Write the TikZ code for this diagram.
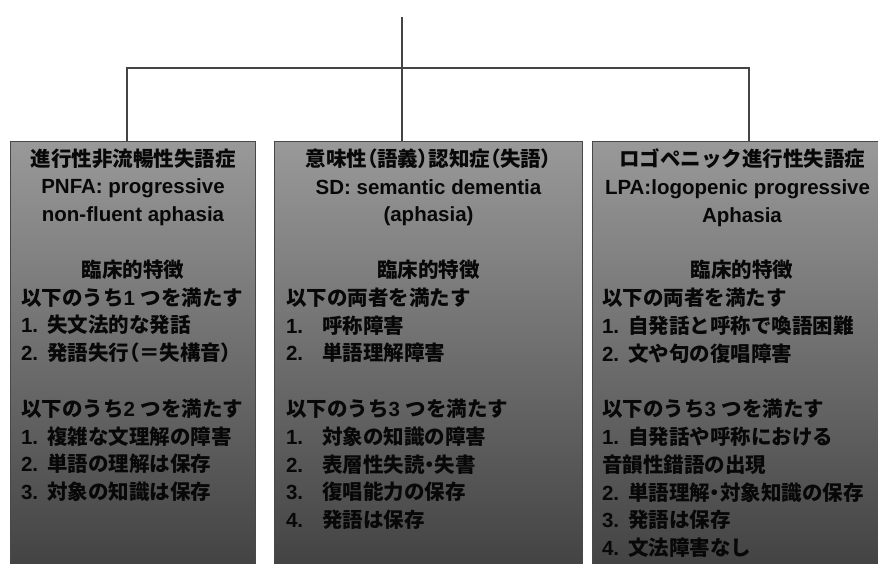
\documentclass[tikz,border=0pt]{standalone}
\usepackage{fontspec}
\setmainfont{Noto Sans CJK JP}
\newfontfamily\jpp{Noto Sans CJK JP}[RawFeature=+palt]
\newfontfamily\latf{Liberation Sans}
\newcommand\lat[1]{{\latf #1}}
\newcommand\pp[1]{{\jpp #1}}
\newcommand\ctr[2]{\makebox[#1][c]{#2}}
\newcommand\nm[1]{\makebox[26pt][l]{\latf #1}}
\newcommand\nmw[1]{\makebox[36pt][l]{\latf #1}}
\definecolor{boxtop}{RGB}{153,153,153}
\definecolor{boxbot}{RGB}{64,64,64}
\definecolor{boxline}{RGB}{72,72,72}
\definecolor{conn}{RGB}{68,68,68}
\definecolor{txt}{RGB}{8,8,8}
\tikzset{
  panel/.style={rectangle, draw=boxline, line width=1pt, top color=boxtop, bottom color=boxbot, minimum height=440pt, anchor=north west, inner sep=0pt, outer sep=0pt},
  body/.style={anchor=north west, inner sep=0pt, outer sep=0pt, align=left, text=txt, font=\fontsize{20.5}{27.8}\selectfont\bfseries},
  link/.style={draw=conn, line width=1.6pt}
}
\begin{document}
\begin{tikzpicture}[x=1pt,y=1pt]
\useasboundingbox (0,0) rectangle (878,-563);
\begin{scope}
\clip (0,0) rectangle (878,-563);
\node[panel, minimum width=245pt] (boxL) at (10,-141) {};
\node[panel, minimum width=308pt] (boxM) at (274,-141) {};
\node[panel, minimum width=300pt] (boxR) at (592,-141) {};
\coordinate (top) at (402,-17);
\coordinate (jL) at (127,-68);
\coordinate (jR) at (749,-68);
\draw[link] (top) -- (top |- boxM.north);
\draw[link] (jL |- boxL.north) -- (jL) -- (jR) -- (jR |- boxR.north);
\node[body] (tL) at (21,-148.5) {%
\ctr{224pt}{進行性非流暢性失語症}\\
\ctr{224pt}{\lat{PNFA: progressive}}\\
\ctr{224pt}{\lat{non-fluent aphasia}}\\
\mbox{}\\
\ctr{224pt}{臨床的特徴}\\
以下のうち\lat{1 }つを満たす\\
\nm{1.}失文法的な発話\\
\nm{2.}発語失行\pp{（}＝失構音\pp{）}\\
\mbox{}\\
以下のうち\lat{2 }つを満たす\\
\nm{1.}複雑な文理解の障害\\
\nm{2.}単語の理解は保存\\
\nm{3.}対象の知識は保存};
\node[body] (tM) at (286,-148.5) {%
\ctr{285pt}{意味性\pp{（}語義\pp{）}認知症\pp{（}失語\pp{）}}\\
\ctr{285pt}{\lat{SD: semantic dementia}}\\
\ctr{285pt}{\lat{(aphasia)}}\\
\mbox{}\\
\ctr{285pt}{臨床的特徴}\\
以下の両者を満たす\\
\nmw{1.}呼称障害\\
\nmw{2.}単語理解障害\\
\mbox{}\\
以下のうち\lat{3 }つを満たす\\
\nmw{1.}対象の知識の障害\\
\nmw{2.}表層性失読\pp{・}失書\\
\nmw{3.}復唱能力の保存\\
\nmw{4.}発語は保存};
\node[body] (tR) at (602,-148.5) {%
\ctr{280pt}{ロゴペニック進行性失語症}\\
\hspace{3pt}\lat{LPA:logopenic progressive}\\
\ctr{280pt}{\lat{Aphasia}}\\
\mbox{}\\
\ctr{280pt}{臨床的特徴}\\
以下の両者を満たす\\
\nm{1.}自発話と呼称で喚語困難\\
\nm{2.}文や句の復唱障害\\
\mbox{}\\
以下のうち\lat{3 }つを満たす\\
\nm{1.}自発話や呼称における\\
音韻性錯語の出現\\
\nm{2.}単語理解\pp{・}対象知識の保存\\
\nm{3.}発語は保存\\
\nm{4.}文法障害なし};
\end{scope}
\end{tikzpicture}
\end{document}
